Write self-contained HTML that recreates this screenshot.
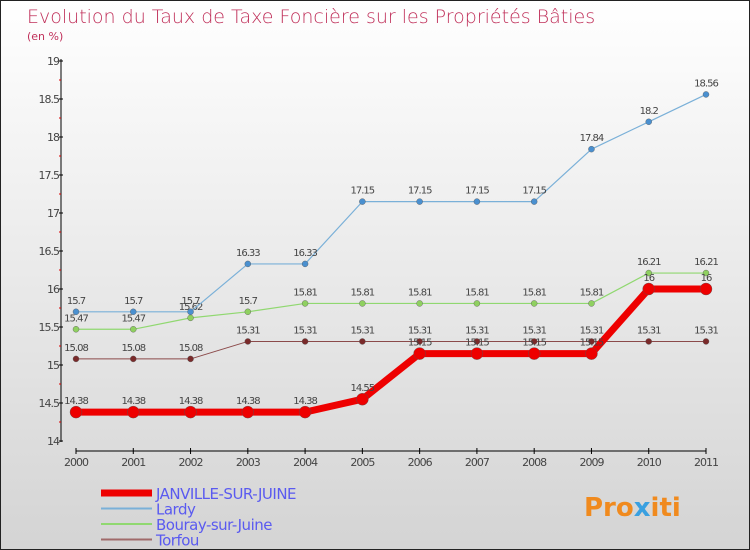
<!DOCTYPE html>
<html><head><meta charset="utf-8"><style>
body{margin:0}
#wrap{width:748px;height:548px;border:1px solid #222;background:linear-gradient(#fff,#d4d4d4);position:relative;font-family:"DejaVu Sans","Liberation Sans",sans-serif;overflow:hidden}
</style></head><body>
<div id="wrap">
<svg id="c" width="748" height="548" xmlns="http://www.w3.org/2000/svg">
<text x="26" y="22" font-size="19" fill="#c0305a" font-family="DejaVu Sans, sans-serif" font-weight="200">Evolution du Taux de Taxe Foncière sur les Propriétés Bâties</text>
<text x="26" y="39" font-size="11" fill="#c0305a">(en %)</text>
<g id="axes"></g><g id="series"></g><g id="legend"></g>
<text x="583" y="515" font-size="26" font-weight="bold" fill="#f08a1e">Pro<tspan fill="#3aa0e0">x</tspan>iti</text>
</svg></div>
<script>
const years=[2000,2001,2002,2003,2004,2005,2006,2007,2008,2009,2010,2011];
const janville=[14.38,14.38,14.38,14.38,14.38,14.55,15.15,15.15,15.15,15.15,16,16];
const lardy=[15.7,15.7,15.7,16.33,16.33,17.15,17.15,17.15,17.15,17.84,18.2,18.56];
const bouray=[15.47,15.47,15.62,15.7,15.81,15.81,15.81,15.81,15.81,15.81,16.21,16.21];
const torfou=[15.08,15.08,15.08,15.31,15.31,15.31,15.31,15.31,15.31,15.31,15.31,15.31];
const yTicks=[14,14.5,15,15.5,16,16.5,17,17.5,18,18.5,19];
const NS="http://www.w3.org/2000/svg";
const X=i=>75+i*(630/11), Y=v=>440-(v-14)*76;
function mk(t,a,p){const e=document.createElementNS(NS,t);for(const k in a)e.setAttribute(k,a[k]);p.appendChild(e);return e;}
const ax=document.getElementById('axes');
let e=mk('line',{x1:60,y1:58,x2:60,y2:441,stroke:'#000'},ax);

e=mk('line',{x1:75,y1:450,x2:705,y2:450,stroke:'#000'},ax);

yTicks.forEach((v,i)=>{mk('line',{x1:58,x2:62,y1:Y(v),y2:Y(v),stroke:'#000'},ax);
 if(i<yTicks.length-1)mk('line',{x1:58,x2:60,y1:Y(v+0.25),y2:Y(v+0.25),stroke:'#d00'},ax);
 const t=mk('text',{x:58,y:Y(v)+4,'font-size':11,'text-anchor':'end',fill:'#444','letter-spacing':'-1'},ax);t.textContent=String(v);
 });
years.forEach((yr,i)=>{mk('line',{x1:X(i),x2:X(i),y1:447,y2:453,stroke:'#000'},ax);
 const t=mk('text',{x:X(i),y:465,'font-size':11,'text-anchor':'middle',fill:'#444','letter-spacing':'-1'},ax);t.textContent=yr;
 });
const sg=document.getElementById('series');
function series(vals,col,w,r,name,dot){
 const g=mk('g',{},sg);
 mk('polyline',{points:vals.map((v,i)=>X(i)+','+Y(v)).join(' '),fill:'none',stroke:col,'stroke-width':w,'stroke-linejoin':'round'},g);
 vals.forEach((v,i)=>{const c=mk('circle',{cx:X(i),cy:Y(v),r:r,fill:dot,stroke:'#555','stroke-width':0.4},g);
  
  const t=mk('text',{x:X(i),y:Y(v)-8,'font-size':10,'text-anchor':'middle',fill:'#444','letter-spacing':'-1'},g);t.textContent=String(v);
  });
}
series(torfou,'#8b4a4a',1,3,'torfou-series','#7a2a2a');
series(bouray,'#90d870',1.2,3,'bouray-series','#8fd060');
series(lardy,'#7ab0d8',1.2,3,'lardy-series','#4a90d0');
series(janville,'#ee0000',7,6,'janville-series','#ee0000');
const lg=document.getElementById('legend');
const leg=[['JANVILLE-SUR-JUINE','#ee0000',7],['Lardy','#7ab0d8',2],['Bouray-sur-Juine','#90d870',2],['Torfou','#a06a6a',2]];
leg.forEach((l,i)=>{const y=492+i*15.5;
 const g=mk('g',{},lg);
 mk('line',{x1:100,x2:151,y1:y,y2:y,stroke:l[1],'stroke-width':l[2]},g);
 const t=mk('text',{x:155,y:y+6,'font-size':15,fill:'#5a5af0','letter-spacing':'-0.5'},g);t.textContent=l[0];});
</script></body></html>
